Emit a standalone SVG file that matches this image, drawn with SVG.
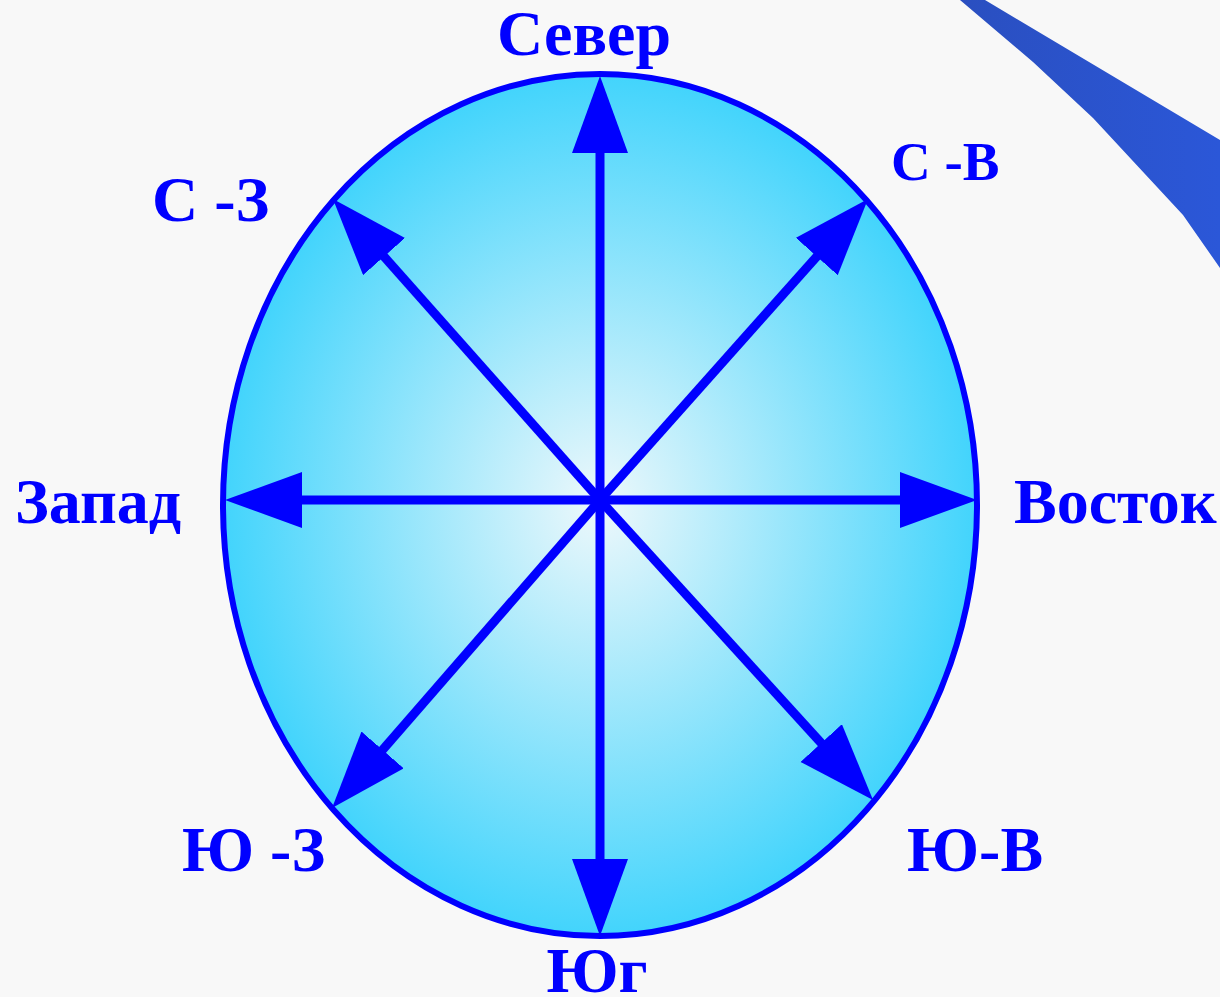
<svg xmlns="http://www.w3.org/2000/svg" width="1220" height="997" viewBox="0 0 1220 997">
<defs>
<radialGradient id="g" cx="0.5" cy="0.5" r="0.5">
<stop offset="0" stop-color="#eef8fb"/>
<stop offset="1" stop-color="#42d4fc"/>
</radialGradient>
<linearGradient id="sw" x1="0" y1="0" x2="1" y2="0">
<stop offset="0" stop-color="#2a4fc0"/>
<stop offset="1" stop-color="#2b57d8"/>
</linearGradient>
<marker id="ah" markerUnits="userSpaceOnUse" markerWidth="80" markerHeight="60" refX="37" refY="28" orient="auto" viewBox="0 0 80 60">
<path d="M0,0 L77,28 L0,56 Z" fill="#0000ff"/>
</marker>
<style>
.lbl{font-family:"Liberation Serif",serif;font-weight:bold;fill:#0000ff}
.ar{stroke:#0000ff;stroke-width:9;fill:none;marker-end:url(#ah)}
</style>
</defs>
<rect width="1220" height="997" fill="#f8f8f8"/>
<path d="M960,0 L985,0 L1220,140 L1220,268 L1183,215 L1093,118 L1033,62 Z" fill="url(#sw)"/>
<g id="ellipse">
<ellipse cx="600" cy="505" rx="377" ry="431" fill="url(#g)" stroke="#0000ff" stroke-width="6"/>
</g>
<g id="connectors">
<line class="ar" x1="600" y1="500" x2="600" y2="116"/>
<line class="ar" x1="600" y1="500" x2="600" y2="896"/>
<line class="ar" x1="600" y1="500" x2="937" y2="500"/>
<line class="ar" x1="600" y1="500" x2="265" y2="500"/>
<line class="ar" x1="600" y1="500" x2="359.5" y2="228.9"/>
<line class="ar" x1="600" y1="500" x2="841.4" y2="228.9"/>
<line class="ar" x1="600" y1="500" x2="358.3" y2="777.8"/>
<line class="ar" x1="600" y1="500" x2="846.1" y2="770.4"/>
</g>
<g id="n"><text class="lbl" x="584" y="55" font-size="64" text-anchor="middle">Север</text></g>
<g id="s"><text class="lbl" x="597" y="992" font-size="64" text-anchor="middle">Юг</text></g>
<g id="e"><text class="lbl" x="1014" y="523" font-size="64">Восток</text></g>
<g id="w"><text class="lbl" x="15" y="523" font-size="64">Запад</text></g>
<g id="nw"><text class="lbl" x="152" y="221" font-size="64">С -З</text></g>
<g id="ne"><text class="lbl" x="891" y="180" font-size="55">С -В</text></g>
<g id="sw2"><text class="lbl" x="182" y="871" font-size="64">Ю -З</text></g>
<g id="se"><text class="lbl" x="907" y="871" font-size="64">Ю-В</text></g>
</svg>
